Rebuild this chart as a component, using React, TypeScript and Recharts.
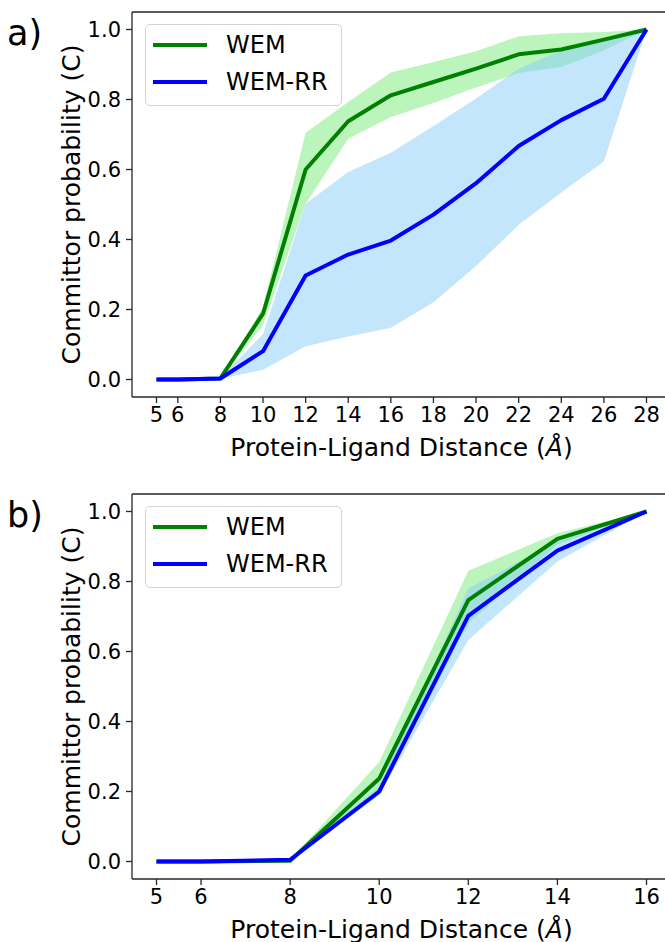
import React from 'react';
import {
  ComposedChart,
  Area,
  Line,
  XAxis,
  YAxis,
  ReferenceLine,
  Legend,
  Label,
} from 'recharts';

// panel a) data
const distA = [5, 6, 8, 10, 12, 14, 16, 18, 20, 22, 24, 26, 28];
const wemA = [0, 0, 0.003, 0.188, 0.6, 0.738, 0.812, 0.85, 0.888, 0.929, 0.943, 0.971, 1.0];
const wemLowA = [0, 0, 0.002, 0.155, 0.502, 0.688, 0.75, 0.79, 0.834, 0.876, 0.893, 0.94, 1.0];
const wemHighA = [0, 0, 0.004, 0.207, 0.705, 0.793, 0.877, 0.907, 0.938, 0.981, 0.989, 0.993, 1.0];
const rrA = [0, 0, 0.003, 0.081, 0.297, 0.357, 0.397, 0.471, 0.561, 0.667, 0.741, 0.802, 1.0];
const rrLowA = [0, 0, 0.002, 0.028, 0.095, 0.123, 0.148, 0.221, 0.324, 0.442, 0.534, 0.623, 1.0];
const rrHighA = [0, 0, 0.005, 0.13, 0.502, 0.593, 0.648, 0.724, 0.803, 0.888, 0.941, 0.97, 1.0];

// panel b) data
const distB = [5, 6, 8, 10, 12, 14, 16];
const wemB = [0, 0, 0.002, 0.237, 0.747, 0.922, 1.0];
const wemLowB = [0, 0, 0, 0.19, 0.68, 0.905, 1.0];
const wemHighB = [0, 0, 0.004, 0.284, 0.831, 0.938, 1.0];
const rrB = [0, 0, 0.005, 0.2, 0.702, 0.888, 1.0];
const rrLowB = [0, 0, 0, 0.19, 0.633, 0.857, 1.0];
const rrHighB = [0, 0, 0.01, 0.215, 0.78, 0.914, 1.0];

const yTicks = [0, 0.2, 0.4, 0.6, 0.8, 1.0];
const seriesNames = ['WEM', 'WEM-RR'];

const FONT = '"DejaVu Sans", Verdana, sans-serif';
const GREEN = '#008000';
const BLUE = '#0000ff';
const GREEN_BAND = '#90ee90';
const BLUE_BAND = '#87cefa';
const SPINE = '#262626';

function buildRows(
  dist: number[],
  wem: number[],
  wemLo: number[],
  wemHi: number[],
  rr: number[],
  rrLo: number[],
  rrHi: number[]
) {
  return dist.map((d, i) => ({
    d,
    wem: wem[i],
    wemBand: [wemLo[i], wemHi[i]],
    rr: rr[i],
    rrBand: [rrLo[i], rrHi[i]],
  }));
}

const rowsA = buildRows(distA, wemA, wemLowA, wemHighA, rrA, rrLowA, rrHighA);
const rowsB = buildRows(distB, wemB, wemLowB, wemHighB, rrB, rrLowB, rrHighB);

const LegendBox = () => (
  <div
    style={{
      position: 'relative',
      width: 197,
      height: 82,
      boxSizing: 'border-box',
      border: '1.3px solid #d4d4d4',
      borderRadius: 5,
      background: 'rgba(255,255,255,0.8)',
      fontFamily: FONT,
      fontSize: 24,
      color: '#000',
    }}
  >
    {seriesNames.map((name, i) => (
      <div key={name} style={{ position: 'absolute', left: 0, top: 20 + i * 37 - 14, height: 28 }}>
        <div
          style={{
            position: 'absolute',
            left: 7,
            top: 12,
            width: 54,
            height: 4,
            background: i === 0 ? GREEN : BLUE,
          }}
        />
        <span style={{ position: 'absolute', left: 80, top: 0, lineHeight: '28px', whiteSpace: 'nowrap' }}>
          {name}
        </span>
      </div>
    ))}
  </div>
);

const XLabel = (props: any) => {
  const vb = props.viewBox || {};
  return (
    <text
      x={vb.x + vb.width / 2}
      y={vb.y + 59}
      textAnchor="middle"
      fontSize={25}
      fontFamily={FONT}
      fill="#000"
    >
      Protein-Ligand Distance (<tspan fontStyle="italic">Å</tspan>)
    </text>
  );
};

const YLabel = (props: any) => {
  const vb = props.viewBox || {};
  const cy = vb.y + vb.height / 2;
  return (
    <text
      x={80}
      y={cy}
      transform={`rotate(-90 80 ${cy})`}
      textAnchor="middle"
      fontSize={25}
      fontFamily={FONT}
      fill="#000"
    >
      Committor probability (C)
    </text>
  );
};

const tagLabel = (tag: string) => (props: any) => (
  <text x={7} y={45} fontSize={35} fontFamily={FONT} fill="#000">
    {tag}
  </text>
);

function Panel({
  rows,
  ticks,
  tag,
  top,
}: {
  rows: any[];
  ticks: number[];
  tag: string;
  top: number;
}) {
  const lo = ticks[0];
  const hi = ticks[ticks.length - 1];
  const pad = (hi - lo) * 0.05;
  return (
    <div style={{ position: 'absolute', left: 0, top }}>
      <ComposedChart
        width={680}
        height={470}
        data={rows}
        margin={{ top: 12, right: 9, bottom: 0, left: 0 }}
      >
        <XAxis
          dataKey="d"
          type="number"
          domain={[lo - pad, hi + pad]}
          ticks={ticks}
          interval={0}
          allowDataOverflow
          height={73}
          tickSize={6}
          tickMargin={4}
          stroke={SPINE}
          strokeWidth={1.3}
          tick={{ fill: '#000', fontSize: 21, fontFamily: FONT }}
        >
          <Label content={XLabel} />
        </XAxis>
        <YAxis
          type="number"
          domain={[-0.05, 1.05]}
          ticks={yTicks}
          interval={0}
          allowDataOverflow
          width={132}
          tickSize={6}
          tickMargin={5}
          stroke={SPINE}
          strokeWidth={1.3}
          tickFormatter={(v: number) => v.toFixed(1)}
          tick={{ fill: '#000', fontSize: 21, fontFamily: FONT }}
        >
          <Label content={YLabel} />
          <Label content={tagLabel(tag)} />
        </YAxis>
        <ReferenceLine y={1.05} stroke={SPINE} strokeWidth={1.3} />
        <ReferenceLine x={hi + pad} stroke={SPINE} strokeWidth={1.3} />
        <Area
          dataKey="wemBand"
          type="linear"
          fill={GREEN_BAND}
          fillOpacity={0.6}
          stroke="none"
          isAnimationActive={false}
        />
        <Area
          dataKey="rrBand"
          type="linear"
          fill={BLUE_BAND}
          fillOpacity={0.5}
          stroke="none"
          isAnimationActive={false}
        />
        <Line
          dataKey="wem"
          type="linear"
          stroke={GREEN}
          strokeWidth={4}
          strokeLinejoin="round"
          dot={false}
          isAnimationActive={false}
        />
        <Line
          dataKey="rr"
          type="linear"
          stroke={BLUE}
          strokeWidth={4}
          strokeLinejoin="round"
          dot={false}
          isAnimationActive={false}
        />
        <Legend
          content={LegendBox}
          layout="vertical"
          align="center"
          verticalAlign="middle"
          wrapperStyle={{ left: 145, top: 24, width: 197, height: 82 }}
        />
      </ComposedChart>
    </div>
  );
}

export default function App() {
  return (
    <div
      style={{
        position: 'absolute',
        left: 0,
        top: 0,
        width: 665,
        height: 942,
        overflow: 'hidden',
        background: '#fff',
      }}
    >
      <Panel rows={rowsA} ticks={distA} tag="a)" top={0} />
      <Panel rows={rowsB} ticks={distB} tag="b)" top={482} />
    </div>
  );
}
